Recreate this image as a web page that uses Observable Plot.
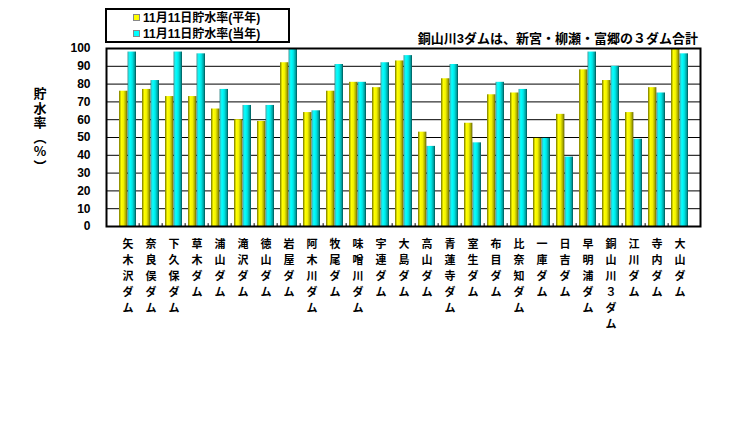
<!DOCTYPE html>
<html>
<head>
<meta charset="utf-8">
<script src="https://cdn.jsdelivr.net/npm/d3@7"></script>
<script src="https://cdn.jsdelivr.net/npm/@observablehq/plot@0.6"></script>
<style>
  html, body { margin: 0; padding: 0; background: #fff; }
  body { width: 756px; height: 425px; position: relative; overflow: hidden;
         font-family: "Liberation Sans", "Noto Sans CJK JP", sans-serif; font-weight: bold; }
  #legend { position: absolute; left: 105px; top: 8px; width: 181px; height: 31px;
            border: 2px solid #000; font-size: 12px; }
  .row { position: absolute; left: 26px; height: 16px; line-height: 16px; white-space: nowrap; }
  .sw { display: inline-block; width: 5px; height: 5px; margin-right: 3px; vertical-align: middle; position: relative; top: -1px; }
  #sub { position: absolute; right: 58px; top: 28px; font-size: 13px; white-space: nowrap; }
  #ytitle { position: absolute; left: 30px; top: 86px; width: 20px; font-size: 13px; text-align: center;
            font-family: "Noto Sans CJK JP", sans-serif; white-space: pre-line; line-height: 14.5px; }
  #chart { position: absolute; left: 0; top: 0; }
</style>
</head>
<body>
<div id="chart"></div>
<div id="legend"></div>
<div id="sub"></div>
<div id="ytitle"></div>
<script>
const dams = ["矢木沢ダム","奈良俣ダム","下久保ダム","草木ダム","浦山ダム","滝沢ダム","徳山ダム","岩屋ダム","阿木川ダム","牧尾ダム","味噌川ダム","宇連ダム","大島ダム","高山ダム","青蓮寺ダム","室生ダム","布目ダム","比奈知ダム","一庫ダム","日吉ダム","早明浦ダム","銅山川３ダム","江川ダム","寺内ダム","大山ダム"];
const normalRate  = [76, 77, 73, 73, 66, 60, 59, 92, 64, 76, 81, 78, 93, 53, 83, 58, 74, 75, 49.5, 63, 88, 82, 64, 78, 99.5];
const currentRate = [98, 82, 98, 97, 77, 68, 68, 99.5, 65, 91, 81, 92, 96, 45, 91, 47, 81, 77, 49.5, 39, 98, 90, 49, 75, 97];
const seriesNames = ["11月11日貯水率(平年)", "11月11日貯水率(当年)"];
const seriesColors = ["#ffff00", "#00ffff"];
const yTicks = [0, 10, 20, 30, 40, 50, 60, 70, 80, 90, 100];
const yTitleChars = ["貯", "水", "率", "︵", "%", "︶"];
const subtitle = "銅山川3ダムは、新宮・柳瀬・富郷の３ダム合計";

const rowsNormal = dams.map((d, i) => ({dam: d, value: normalRate[i]}));
const rowsCurrent = dams.map((d, i) => ({dam: d, value: currentRate[i]}));

const W = 756, H = 425;
const font = '"Liberation Sans", "Noto Sans CJK JP", sans-serif';

const svg = Plot.plot({
  width: W, height: H,
  marginLeft: 106, marginRight: 56, marginTop: 48, marginBottom: 199,
  style: {fontFamily: font, fontWeight: "bold", fontSize: "12px", background: "transparent", overflow: "visible"},
  x: {domain: dams, paddingInner: 0.27, paddingOuter: 0.17, label: null},
  y: {domain: [0, 100], label: null},
  marks: [
    Plot.gridY(yTicks, {stroke: "#000", strokeOpacity: 1, strokeWidth: 1}),
    Plot.barY(rowsNormal, {x: "dam", y: "value", fill: "url(#gradY)", insetRight: 8.65}),
    Plot.barY(rowsCurrent, {x: "dam", y: "value", fill: "url(#gradC)", insetLeft: 8.65}),
    Plot.ruleX(dams.slice(1), {x: d => d, y1: 0, y2: 1.6, dx: -11.85, stroke: "#000", strokeWidth: 1}),
    Plot.frame({stroke: "#000", strokeWidth: 2}),
    Plot.axisY({ticks: yTicks, tickSize: 0, tickPadding: 16, fontSize: 12, fontWeight: "bold", label: null}),
    Plot.axisX({tickSize: 0, tickPadding: 10, fontSize: 11, fontWeight: "bold", label: null,
      tickFormat: d => [...d].join("\n"), lineHeight: 1.46, lineAnchor: "top", fontFamily: '"Noto Sans CJK JP", sans-serif'})
  ]
});

// gradient defs for cylinder-like shading
const defs = d3.select(svg).insert("defs", ":first-child");
function grad(id, stops) {
  const g = defs.append("linearGradient").attr("id", id).attr("x1", "0").attr("x2", "1").attr("y1", "0").attr("y2", "0");
  stops.forEach(([o, c]) => g.append("stop").attr("offset", o).attr("stop-color", c));
}
grad("gradY", [[0, "#6e6e00"], [0.12, "#b8b800"], [0.3, "#ffff00"], [0.55, "#f0f000"], [0.85, "#a0a000"], [1, "#5a5a00"]]);
grad("gradC", [[0, "#006a6a"], [0.12, "#33e0e0"], [0.3, "#00ffff"], [0.55, "#00e6e6"], [0.85, "#009898"], [1, "#004f4f"]]);

document.getElementById("chart").appendChild(svg);

const leg = document.getElementById("legend");
seriesNames.forEach((name, i) => {
  const r = document.createElement("div");
  r.className = "row";
  r.style.top = (i * 16) + "px";
  r.innerHTML = `<span class="sw" style="background:${seriesColors[i]};border:0.5px solid #888"></span>${name}`;
  leg.appendChild(r);
});
document.getElementById("sub").textContent = subtitle;
document.getElementById("ytitle").textContent = yTitleChars.join("\n");
</script>
</body>
</html>
